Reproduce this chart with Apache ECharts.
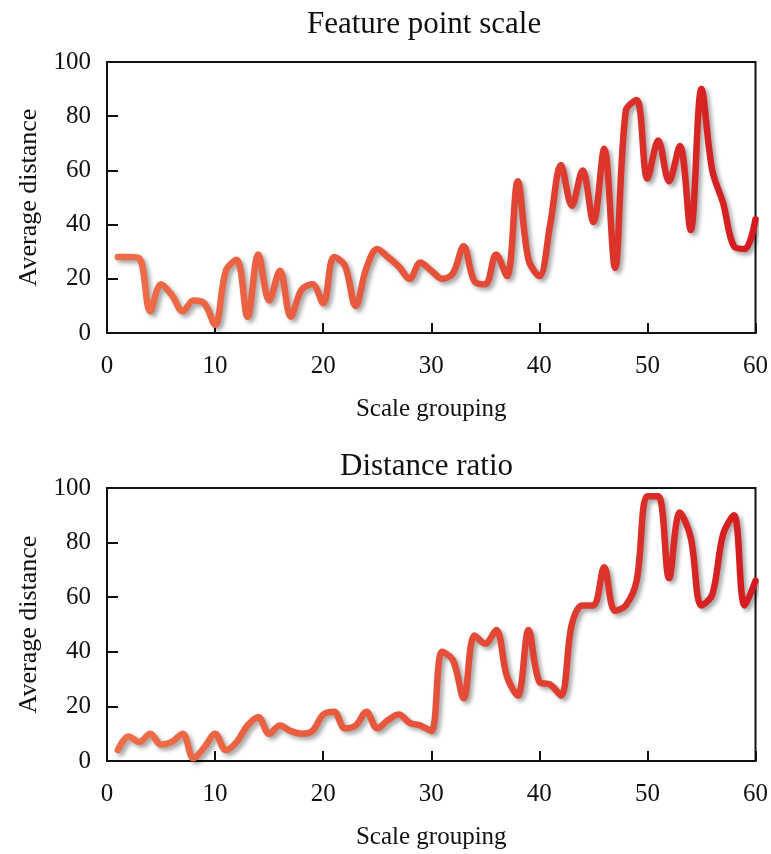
<!DOCTYPE html>
<html>
<head>
<meta charset="utf-8">
<script src="https://cdn.jsdelivr.net/npm/echarts@6/dist/echarts.min.js"></script>
<style>
  html, body { margin: 0; padding: 0; background: #fff; }
  #chart { width: 771px; height: 854px; }
</style>
</head>
<body>
<div id="chart"></div>
<script>
// scale groups 1..60
const groups = Array.from({ length: 60 }, (_, i) => i + 1);

// top panel: feature point scale
const featureScale = [
  28, 28, 27.5, 8, 18, 14, 8, 12, 11, 3,
  23, 27, 6, 29, 12, 23, 6, 16, 18, 11,
  28, 25, 10, 24, 31, 28, 24.5, 20, 26, 23,
  20, 22, 32, 19, 18, 29, 21, 56, 27, 21,
  40, 62, 47, 60, 41, 68, 24, 82, 86, 57,
  71, 56, 69, 38, 90, 60, 48, 32, 31, 42
];

// bottom panel: distance ratio
const distanceRatio = [
  4, 9, 7, 10, 6, 7, 10, 1, 5, 10,
  4, 7, 13, 16, 10, 13, 11, 10, 11, 17,
  18, 12, 13, 18, 12, 15, 17, 14, 13, 11,
  40, 37, 23, 46, 43, 48, 31, 24, 48, 29,
  28, 24, 50, 57, 57, 71, 55, 57, 66, 97,
  97, 67, 91, 82, 57, 61, 83, 90, 57, 66
];

const titles = ['Feature point scale', 'Distance ratio'];
const xTicks = [0, 10, 20, 30, 40, 50, 60];
const yTicks = [0, 20, 40, 60, 80, 100];

const serif = "'Liberation Serif', 'Times New Roman', serif";
const ink = '#111';

const chart = echarts.init(document.getElementById('chart'), null, { renderer: 'canvas' });

function lineColor() {
  return new echarts.graphic.LinearGradient(0, 0, 1, 0, [
    { offset: 0, color: '#ee6e48' },
    { offset: 0.5, color: '#e5523a' },
    { offset: 1, color: '#d41a1e' }
  ]);
}

function xAxisFor(idx, gap) {
  return {
    type: 'value', gridIndex: idx,
    min: xTicks[0], max: xTicks[xTicks.length - 1], interval: 10,
    name: 'Scale grouping', nameLocation: 'middle', nameGap: gap,
    nameTextStyle: { fontFamily: serif, fontSize: 25, color: ink },
    axisLine: { lineStyle: { color: ink, width: 2 } },
    axisTick: { inside: true, length: 10, lineStyle: { color: ink, width: 2 } },
    axisLabel: { fontFamily: serif, fontSize: 25, color: ink, margin: 21 },
    splitLine: { show: false }
  };
}

function yAxisFor(idx) {
  return {
    type: 'value', gridIndex: idx,
    min: yTicks[0], max: yTicks[yTicks.length - 1], interval: 20,
    name: 'Average distance', nameLocation: 'middle', nameGap: 64,
    nameTextStyle: { fontFamily: serif, fontSize: 26, color: ink },
    axisLine: { show: true, lineStyle: { color: ink, width: 2 } },
    axisTick: { show: true, inside: true, length: 11, lineStyle: { color: ink, width: 2 } },
    axisLabel: { fontFamily: serif, fontSize: 25, color: ink, margin: 16 },
    splitLine: { show: false }
  };
}

function seriesFor(idx, values) {
  return {
    type: 'line', xAxisIndex: idx, yAxisIndex: idx,
    data: groups.map((g, i) => [g, values[i]]),
    smooth: 0.35, showSymbol: false, clip: false,
    lineStyle: {
      width: 6.5, color: lineColor(), cap: 'round', join: 'round',
      shadowColor: 'rgba(0,0,0,0.35)', shadowBlur: 4,
      shadowOffsetX: 3, shadowOffsetY: 3
    }
  };
}

chart.setOption({
  animation: false,
  backgroundColor: '#fff',
  title: [
    { text: titles[0], left: 302, top: 4,
      textStyle: { fontFamily: serif, fontSize: 31, fontWeight: 'normal', color: ink } },
    { text: titles[1], left: 335, top: 446,
      textStyle: { fontFamily: serif, fontSize: 31, fontWeight: 'normal', color: ink } }
  ],
  grid: [
    { left: 107, top: 62, width: 649, height: 271, show: true, borderColor: ink, borderWidth: 2 },
    { left: 107, top: 488, width: 649, height: 273, show: true, borderColor: ink, borderWidth: 2 }
  ],
  xAxis: [xAxisFor(0, 64), xAxisFor(1, 64)],
  yAxis: [yAxisFor(0), yAxisFor(1)],
  series: [seriesFor(0, featureScale), seriesFor(1, distanceRatio)]
});
</script>
</body>
</html>
